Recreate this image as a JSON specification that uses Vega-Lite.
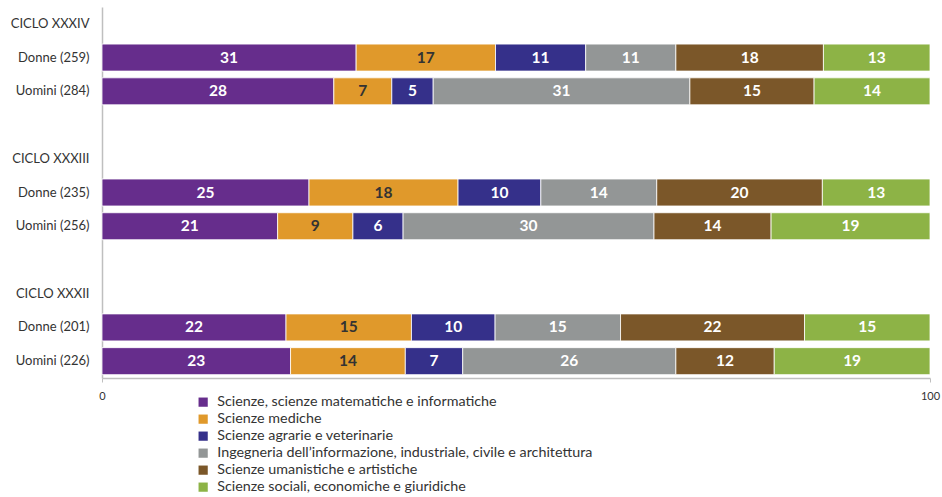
{
  "$schema": "https://vega.github.io/schema/vega-lite/v6.json",
  "autosize": "none",
  "width": 828,
  "height": 371,
  "padding": {"left": 102, "top": 7, "right": 12, "bottom": 119},
  "background": "white",
  "config": {
    "view": {"stroke": null},
    "font": "Lato",
    "axis": {"labelFont": "Lato", "labelColor": "#333333", "domainColor": "#bfbfbf", "tickColor": "#bfbfbf"},
    "legend": {"labelFont": "Lato"}
  },
  "data": {
    "values": [
      {"row": "Donne (259)", "cat": "Scienze, scienze matematiche e informatiche", "k": 1, "v": 31},
      {"row": "Donne (259)", "cat": "Scienze mediche", "k": 2, "v": 17},
      {"row": "Donne (259)", "cat": "Scienze agrarie e veterinarie", "k": 3, "v": 11},
      {"row": "Donne (259)", "cat": "Ingegneria dell’informazione, industriale, civile e architettura", "k": 4, "v": 11},
      {"row": "Donne (259)", "cat": "Scienze umanistiche e artistiche", "k": 5, "v": 18},
      {"row": "Donne (259)", "cat": "Scienze sociali, economiche e giuridiche", "k": 6, "v": 13},
      {"row": "Uomini (284)", "cat": "Scienze, scienze matematiche e informatiche", "k": 1, "v": 28},
      {"row": "Uomini (284)", "cat": "Scienze mediche", "k": 2, "v": 7},
      {"row": "Uomini (284)", "cat": "Scienze agrarie e veterinarie", "k": 3, "v": 5},
      {"row": "Uomini (284)", "cat": "Ingegneria dell’informazione, industriale, civile e architettura", "k": 4, "v": 31},
      {"row": "Uomini (284)", "cat": "Scienze umanistiche e artistiche", "k": 5, "v": 15},
      {"row": "Uomini (284)", "cat": "Scienze sociali, economiche e giuridiche", "k": 6, "v": 14},
      {"row": "Donne (235)", "cat": "Scienze, scienze matematiche e informatiche", "k": 1, "v": 25},
      {"row": "Donne (235)", "cat": "Scienze mediche", "k": 2, "v": 18},
      {"row": "Donne (235)", "cat": "Scienze agrarie e veterinarie", "k": 3, "v": 10},
      {"row": "Donne (235)", "cat": "Ingegneria dell’informazione, industriale, civile e architettura", "k": 4, "v": 14},
      {"row": "Donne (235)", "cat": "Scienze umanistiche e artistiche", "k": 5, "v": 20},
      {"row": "Donne (235)", "cat": "Scienze sociali, economiche e giuridiche", "k": 6, "v": 13},
      {"row": "Uomini (256)", "cat": "Scienze, scienze matematiche e informatiche", "k": 1, "v": 21},
      {"row": "Uomini (256)", "cat": "Scienze mediche", "k": 2, "v": 9},
      {"row": "Uomini (256)", "cat": "Scienze agrarie e veterinarie", "k": 3, "v": 6},
      {"row": "Uomini (256)", "cat": "Ingegneria dell’informazione, industriale, civile e architettura", "k": 4, "v": 30},
      {"row": "Uomini (256)", "cat": "Scienze umanistiche e artistiche", "k": 5, "v": 14},
      {"row": "Uomini (256)", "cat": "Scienze sociali, economiche e giuridiche", "k": 6, "v": 19},
      {"row": "Donne (201)", "cat": "Scienze, scienze matematiche e informatiche", "k": 1, "v": 22},
      {"row": "Donne (201)", "cat": "Scienze mediche", "k": 2, "v": 15},
      {"row": "Donne (201)", "cat": "Scienze agrarie e veterinarie", "k": 3, "v": 10},
      {"row": "Donne (201)", "cat": "Ingegneria dell’informazione, industriale, civile e architettura", "k": 4, "v": 15},
      {"row": "Donne (201)", "cat": "Scienze umanistiche e artistiche", "k": 5, "v": 22},
      {"row": "Donne (201)", "cat": "Scienze sociali, economiche e giuridiche", "k": 6, "v": 15},
      {"row": "Uomini (226)", "cat": "Scienze, scienze matematiche e informatiche", "k": 1, "v": 23},
      {"row": "Uomini (226)", "cat": "Scienze mediche", "k": 2, "v": 14},
      {"row": "Uomini (226)", "cat": "Scienze agrarie e veterinarie", "k": 3, "v": 7},
      {"row": "Uomini (226)", "cat": "Ingegneria dell’informazione, industriale, civile e architettura", "k": 4, "v": 26},
      {"row": "Uomini (226)", "cat": "Scienze umanistiche e artistiche", "k": 5, "v": 12},
      {"row": "Uomini (226)", "cat": "Scienze sociali, economiche e giuridiche", "k": 6, "v": 19}
    ]
  },
  "encoding": {
    "y": {
      "field": "row", "type": "nominal",
      "scale": {
        "domain": ["CICLO XXXIV", "Donne (259)", "Uomini (284)", " ", "CICLO XXXIII", "Donne (235)", "Uomini (256)", "  ", "CICLO XXXII", "Donne (201)", "Uomini (226)"],
        "paddingInner": 0.2, "paddingOuter": 0.1
      },
      "axis": {"title": null, "ticks": false, "labelFontSize": 13, "labelPadding": 13, "domainColor": "#bfbfbf", "domainWidth": 1.5}
    }
  },
  "layer": [
    {
      "mark": {"type": "bar", "stroke": "#ffffff", "strokeWidth": 0.8},
      "encoding": {
        "x": {
          "field": "v", "type": "quantitative", "stack": "normalize",
          "scale": {"domain": [0, 1], "nice": false},
          "axis": {"title": null, "values": [0, 1], "labelExpr": "datum.value * 100", "grid": false, "tickSize": 4, "labelPadding": 8, "labelFontSize": 11, "labelFlush": false, "labelBound": false, "domainWidth": 1.5}
        },
        "order": {"field": "k", "type": "quantitative"},
        "color": {
          "field": "cat", "type": "nominal",
          "scale": {
            "domain": ["Scienze, scienze matematiche e informatiche", "Scienze mediche", "Scienze agrarie e veterinarie", "Ingegneria dell’informazione, industriale, civile e architettura", "Scienze umanistiche e artistiche", "Scienze sociali, economiche e giuridiche"],
            "range": ["#662d8c", "#e0992b", "#35308a", "#939696", "#7b5729", "#8db346"]
          },
          "legend": {
            "title": null, "orient": "none", "legendX": 94, "legendY": 388,
            "symbolType": "square", "symbolSize": 85, "symbolStrokeWidth": 0,
            "labelFontSize": 14.3, "labelColor": "#333333", "labelLimit": 600,
            "rowPadding": 2, "labelOffset": 7
          }
        }
      }
    },
    {
      "mark": {"type": "text", "font": "Lato", "fontWeight": "bold", "fontSize": 15.5, "baseline": "middle", "align": "center"},
      "encoding": {
        "x": {"field": "v", "type": "quantitative", "stack": "normalize", "bandPosition": 0.5},
        "order": {"field": "k", "type": "quantitative"},
        "text": {"field": "v", "type": "quantitative"},
        "color": {
          "condition": {"test": "datum.k === 2", "value": "#333333"},
          "value": "#ffffff"
        }
      }
    }
  ]
}
